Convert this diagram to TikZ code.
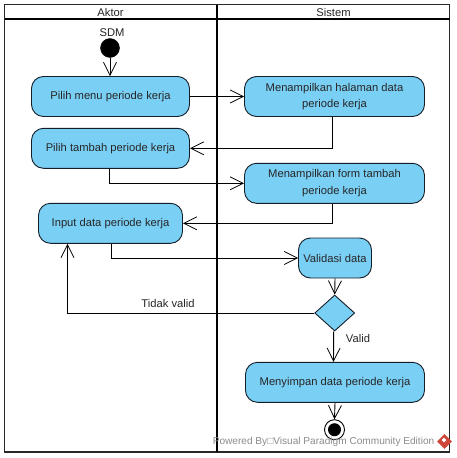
\documentclass[tikz,border=0pt]{standalone}
\usepackage{fontspec}
\setmainfont{Liberation Sans}
\usetikzlibrary{arrows.meta,shapes.geometric}
\definecolor{actfill}{RGB}{122,207,245}
\definecolor{actline}{RGB}{20,30,40}
\definecolor{frameline}{RGB}{40,40,40}
\definecolor{wmgrey}{RGB}{140,140,140}
\definecolor{wmred}{RGB}{205,70,55}
\tikzset{
  x=1pt,y=-1pt,
  lbl/.style={font=\fontsize{11.2}{14.5}\selectfont,text=black!85,inner sep=0pt},
  action/.style={draw=actline,fill=actfill,line width=0.9pt,rounded corners=12pt,inner sep=0pt,align=center,
     font=\fontsize{11.2}{16.5}\selectfont,text=black!85},
  flow/.style={draw=black,line width=0.9pt,-{Straight Barb[length=13pt,width=13pt,line width=0.8pt]}},
  lane/.style={draw=frameline,line width=1.4pt},
  lanehead/.style={draw=black,line width=1.6pt},
  decide/.style={diamond,draw=actline,fill=actfill,line width=0.9pt,inner sep=0pt,minimum width=40pt,minimum height=36pt,aspect=1.1},
}
\begin{document}
\begin{tikzpicture}
\useasboundingbox (0,0) rectangle (457,458);
\fill[white] (0,0) rectangle (457,458);
% swimlanes
\node[lbl] (hA) at (110.5,12.5) {Aktor};
\node[lbl] (hB) at (333.5,12.5) {Sistem};
\draw[lane] (4.5,4.5) rectangle (449.7,452);
\draw[lanehead] (4.5,19) -- (449.7,19);
\draw[lanehead] (217,4.5) -- (217,452);
% nodes
\node[lbl] (sdm) at (112,32.5) {SDM};
\node[circle,fill=black,draw=black,inner sep=0pt,minimum size=19pt] (start) at (110,48) {};
\node[action,minimum width=158pt,minimum height=40pt] (a1) at (110.5,96.5) {Pilih menu periode kerja};
\node[action,minimum width=158pt,minimum height=40pt] (a2) at (110.5,148.3) {Pilih tambah periode kerja};
\node[action,minimum width=144pt,minimum height=40pt] (a3) at (110.5,223.3) {Input data periode kerja};
\node[action,minimum width=180pt,minimum height=40pt] (b1) at (334.5,96.5) {Menampilkan halaman data\\periode kerja};
\node[action,minimum width=180pt,minimum height=40pt] (b2) at (334.5,183.3) {Menampilkan form tambah\\periode kerja};
\node[action,minimum width=73pt,minimum height=40pt] (v) at (335,258) {Validasi data};
\node[decide] (d) at (334.7,313) {};
\node[action,minimum width=179pt,minimum height=40pt] (b3) at (335,382.3) {Menyimpan data periode kerja};
\node[circle,draw=black,fill=white,line width=0.9pt,inner sep=0pt,minimum size=20pt] (endo) at (334.5,429.7) {};
\node[circle,fill=black,inner sep=0pt,minimum size=13pt] (endi) at (334.5,429.7) {};
% connectors
\draw[flow] (start) -- (a1.north -| start);
\draw[flow] (a1.east) -- (b1.west);
\draw[flow] ([xshift=-2pt]b1.south) |- (a2.east);
\draw[flow] ([xshift=-1pt]a2.south) |- (b2.west);
\draw[flow] ([xshift=-2pt]b2.south) |- (a3.east);
\draw[flow] ([xshift=1pt]a3.south) |- (v.west);
\draw[flow] (v.south) -- (d.north);
\draw[flow] (d.west) -| ([xshift=-43pt]a3.south);
\draw[flow] ([xshift=-1pt]d.south) -- ([xshift=-1.5pt]b3.north);
\draw[flow] (b3.south) -- (endo.north);
\node[lbl] (tv) at (168,303) {Tidak valid};
\node[lbl] (val) at (358,338.5) {Valid};
% watermark
\node[font=\fontsize{10.1}{12}\selectfont,text=wmgrey,inner sep=0pt,anchor=east] (wm) at (434.5,441.5) {Powered By□Visual Paradigm Community Edition};
\node[diamond,fill=wmred,inner sep=0pt,minimum size=15pt] (logo) at (444.5,441.5) {};
\node[diamond,fill=white,inner sep=0pt,minimum size=5pt] (logoi) at (444,440) {};
\end{tikzpicture}
\end{document}
